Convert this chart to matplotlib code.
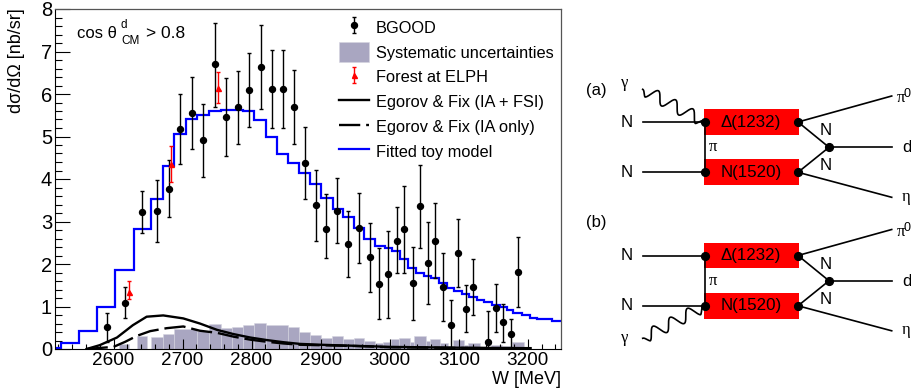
import numpy as np
import matplotlib
matplotlib.use("Agg")
import matplotlib.pyplot as plt
from matplotlib.patches import Rectangle
from matplotlib.ticker import MultipleLocator

plt.rcParams['font.family'] = ['Liberation Sans', 'DejaVu Sans']

# BGOOD points, with top and bottom of each error bar
w_bgood = [2590, 2616, 2641, 2663, 2680, 2697, 2713, 2730, 2747, 2763, 2780, 2796, 2813, 2829, 2845, 2861,
           2877, 2893, 2908, 2924, 2940, 2956, 2971, 2985, 2998, 3010, 3021, 3033, 3044, 3055, 3066, 3077,
           3088, 3099, 3110, 3121, 3142, 3154, 3164, 3175, 3186]
val_bgood = [0.51, 1.08, 3.22, 3.24, 3.76, 5.18, 5.55, 4.92, 6.70, 5.46, 5.69, 6.09, 6.63, 6.12, 6.12, 5.69,
             4.37, 3.38, 2.83, 3.25, 2.48, 2.84, 2.16, 1.54, 1.76, 2.55, 2.82, 1.55, 3.36, 2.03, 2.53, 1.45,
             0.56, 2.27, 0.95, 1.46, 0.17, 0.96, 0.63, 0.35, 1.81]
top_bgood = [0.85, 1.47, 3.72, 3.98, 4.45, 6.01, 6.39, 5.77, 7.67, 6.37, 6.55, 6.96, 7.62, 7.04, 7.04, 6.56,
             5.22, 4.21, 3.65, 4.02, 3.25, 3.66, 2.97, 2.38, 2.78, 3.33, 3.84, 2.41, 4.32, 2.98, 3.44, 2.25,
             1.15, 3.07, 1.51, 2.12, 0.89, 1.53, 1.07, 0.71, 2.63]
bot_bgood = [0.17, 0.72, 2.74, 2.52, 3.11, 4.35, 4.71, 4.05, 5.70, 4.55, 4.82, 5.22, 5.65, 5.20, 5.20, 4.82,
             3.53, 2.55, 2.13, 2.49, 1.70, 2.02, 1.34, 0.70, 0.73, 1.78, 1.78, 0.68, 2.38, 1.07, 1.66, 0.67,
             0.05, 1.45, 0.39, 0.80, 0.00, 0.39, 0.17, 0.00, 1.00]

# Forest at ELPH
w_forest = [2622, 2683, 2751]
val_forest = [1.35, 4.35, 6.15]
top_forest = [1.61, 4.78, 6.52]
bot_forest = [1.18, 3.93, 5.80]

# fitted toy model histogram
toy_edges = [2516, 2524, 2550, 2576, 2602, 2629, 2654, 2671, 2688, 2705, 2721, 2738, 2755, 2788, 2804, 2821,
             2837, 2852, 2868, 2885, 2901, 2918, 2933, 2948, 2963, 2978, 2993, 3003, 3015, 3027, 3038, 3049,
             3060, 3071, 3083, 3093, 3105, 3115, 3126, 3137, 3148, 3159, 3170, 3179, 3192, 3203, 3213, 3224,
             3235, 3248]
toy_vals = [0.02, 0.13, 0.43, 0.99, 1.87, 2.82, 3.54, 4.31, 5.07, 5.40, 5.51, 5.60, 5.63, 5.60, 5.39, 4.98,
            4.60, 4.37, 4.15, 3.88, 3.55, 3.29, 3.11, 2.85, 2.60, 2.43, 2.37, 2.31, 2.12, 1.90, 1.78, 1.72,
            1.66, 1.55, 1.43, 1.36, 1.29, 1.22, 1.15, 1.11, 1.03, 0.98, 0.92, 0.85, 0.79, 0.74, 0.71, 0.70,
            0.66]

# systematic uncertainties
syst_edges = [2608, 2623, 2634, 2649, 2654, 2671, 2688, 2721, 2739, 2756, 2771, 2788, 2804, 2821, 2853, 2869,
              2885, 2900, 2916, 2932, 2948, 2963, 2978, 2990, 3002, 3014, 3029, 3035, 3052, 3058, 3073, 3085,
              3092, 3108, 3113, 3130, 3146, 3163, 3177, 3194]
syst_vals = [0.12, 0, 0.31, 0, 0.29, 0.35, 0.47, 0.42, 0.60, 0.50, 0.52, 0.56, 0.61, 0.56, 0.52,
             0.39, 0.34, 0.27, 0.31, 0.24, 0.27, 0.20, 0.13, 0.16, 0.24, 0.26, 0.16, 0.31, 0.20, 0.24, 0.13,
             0, 0.21, 0.10, 0.13, 0.03, 0.10, 0.07, 0.17]

# Egorov & Fix curves
w_fsi = [2561, 2580, 2605, 2628, 2648, 2672, 2701, 2725, 2750, 2774, 2798, 2822, 2846, 2870, 2900, 3000, 3100, 3204]
val_fsi = [0.0, 0.09, 0.27, 0.56, 0.76, 0.79, 0.72, 0.60, 0.45, 0.35, 0.27, 0.21, 0.16, 0.12, 0.10, 0.05, 0.03, 0.02]
w_ia = [2561, 2600, 2617, 2634, 2653, 2677, 2701, 2725, 2750, 2774, 2798, 2822, 2846, 2870, 2950, 3000, 3100, 3204]
val_ia = [0.0, 0.05, 0.17, 0.31, 0.42, 0.49, 0.53, 0.43, 0.38, 0.29, 0.22, 0.17, 0.13, 0.10, 0.07, 0.04, 0.025, 0.01]

legend_labels = ["BGOOD", "Systematic uncertainties", "Forest at ELPH", "Egorov & Fix (IA + FSI)",
                 "Egorov & Fix (IA only)", "Fitted toy model"]

fig = plt.figure(figsize=(9.12, 3.92), dpi=100)
ax = fig.add_axes([55.5/912, 1-349/392, (561-55.5)/912, (349-9)/392])

bars = ax.bar(syst_edges[:-1], syst_vals, width=np.diff(syst_edges), align='edge', color='#a9a6c1',
              edgecolor='#d5d4e0', linewidth=0.4, zorder=1)
ax.stairs(toy_vals, toy_edges, color='#0000ff', linewidth=1.6, zorder=2, baseline=None)
toy_handle = plt.Line2D([], [], color='#0000ff', linewidth=1.6)
fsi, = ax.plot(w_fsi, val_fsi, color='black', linewidth=1.7, zorder=3)
ia, = ax.plot(w_ia, val_ia, color='black', linewidth=1.7, linestyle=(0, (9, 2.5)), zorder=3)

val_b = np.array(val_bgood)
bg = ax.errorbar(w_bgood, val_bgood, yerr=[val_b-np.array(bot_bgood), np.array(top_bgood)-val_b], fmt='o',
                 color='black', ms=4.3, elinewidth=1, capsize=1.6, capthick=1, zorder=4)
val_f = np.array(val_forest)
fo = ax.errorbar(w_forest, val_forest, yerr=[val_f-np.array(bot_forest), np.array(top_forest)-val_f], fmt='^',
                 color='#ff0000', ms=3.6, elinewidth=1, capsize=1.6, capthick=1, zorder=5)

ax.set_xlim(2516, 3248)
ax.set_ylim(0, 8)
ax.xaxis.set_major_locator(MultipleLocator(100))
ax.xaxis.set_minor_locator(MultipleLocator(20))
ax.yaxis.set_major_locator(MultipleLocator(1))
ax.yaxis.set_minor_locator(MultipleLocator(0.2))
ax.tick_params(axis='x', which='major', direction='in', length=7.5, width=0.8, labelsize=13.6, pad=2.5)
ax.tick_params(axis='x', which='minor', direction='in', length=3.8, width=0.8)
ax.tick_params(axis='y', which='major', direction='in', length=10.5, width=0.8, labelsize=14.5, pad=2.5)
ax.tick_params(axis='y', which='minor', direction='in', length=5.2, width=0.8)
for s in ['top', 'right']:
    ax.spines[s].set_color('#555555')
    ax.spines[s].set_linewidth(0.9)

ax.legend([bg, bars, fo, fsi, ia, toy_handle], legend_labels,
          loc='upper left', bbox_to_anchor=(339/912, 1-17.5/392), bbox_transform=fig.transFigure,
          frameon=False, fontsize=11.8, borderpad=0, borderaxespad=0, handlelength=1.83, handletextpad=0.41,
          handleheight=1.45, labelspacing=0.33)

# everything below is placed in picture pixels
over = fig.add_axes([0, 0, 1, 1], zorder=10)
over.set_xlim(0, 912)
over.set_ylim(392, 0)
over.axis('off')
over.patch.set_alpha(0)

over.text(17, 8, "d\u03c3/d\u03a9 [nb/sr]", rotation=90, ha='center', va='top', fontsize=13)
over.text(561, 380, "W [MeV]", ha='right', va='center', fontsize=13)
over.text(76.7, 33, "cos \u03b8", ha='left', va='center', fontsize=12)
over.text(120.5, 25, "d", ha='left', va='center', fontsize=8.5)
over.text(121, 41, "CM", ha='left', va='center', fontsize=8.5)
over.text(145.7, 33, "> 0.8", ha='left', va='center', fontsize=12.5)


def photon(x0, y0, x1, y1, waves=3.5, amp=6):
    t = np.linspace(0, 1, 200)
    dx, dy = x1-x0, y1-y0
    n = np.hypot(dx, dy)
    wob = amp*np.sin(2*np.pi*waves*t)*np.minimum(1, np.minimum(t, 1-t)*12)
    over.plot(x0+dx*t-dy/n*wob, y0+dy*t+dx/n*wob, color='black', lw=1.2)


def diagram(off, tag, tag_y):
    y_up, y_lo, y_mid = 122+off, 172.3+off, 147.3+off
    over.add_patch(Rectangle((704.3, 109.3+off), 94.4, 25.4, color='#ff0000', lw=0))
    over.add_patch(Rectangle((704.3, 159.3+off), 94.4, 26, color='#ff0000', lw=0))
    segs = [((642.7, 705), (y_up, y_up)), ((642.7, 705), (y_lo, y_lo)), ((705, 705), (y_up, y_lo)),
            ((798, 891.7), (y_up, 96+off)), ((798, 891.7), (y_lo, 197.3+off)),
            ((798, 829), (y_up, y_mid)), ((798, 829), (y_lo, y_mid)), ((829, 891.7), (y_mid, y_mid))]
    for xs, ys in segs:
        over.plot(xs, ys, color='black', lw=1.2)
    over.plot([705, 705, 798, 798, 829], [y_up, y_lo, y_up, y_lo, y_mid], 'o', color='black', ms=5.6)
    over.text(751, y_up, "\u0394(1232)", ha='center', va='center', fontsize=12.2)
    over.text(751, y_lo, "N(1520)", ha='center', va='center', fontsize=12.2)
    over.text(626.7, y_up, "N", ha='center', va='center', fontsize=12.2)
    over.text(626.7, y_lo, "N", ha='center', va='center', fontsize=12.2)
    over.text(826, y_mid-16.5, "N", ha='center', va='center', fontsize=12.2)
    over.text(826, y_mid+18.5, "N", ha='center', va='center', fontsize=12.2)
    over.text(713.3, y_mid, "\u03c0", ha='center', va='center', fontsize=12, family='Liberation Serif')
    over.text(897, 98+off, "\u03c0", ha='left', va='center', fontsize=12, family='Liberation Serif')
    over.text(904, 94+off, "0", ha='left', va='center', fontsize=9)
    over.text(907, y_mid+0.5, "d", ha='center', va='center', fontsize=12.2)
    over.text(906, 197+off, "\u03b7", ha='center', va='center', fontsize=12, family='Liberation Serif')
    over.text(586, tag_y, tag, ha='left', va='center', fontsize=12)


diagram(0, "(a)", 90)
diagram(133.5, "(b)", 222)
photon(642.7, 89.3, 703, 121)
photon(642.7, 338.3, 703, 307)
over.text(625, 82.7, "\u03b3", ha='center', va='center', fontsize=12, family='Liberation Serif')
over.text(625, 338, "\u03b3", ha='center', va='center', fontsize=12, family='Liberation Serif')

fig.savefig("out.png", dpi=100)
